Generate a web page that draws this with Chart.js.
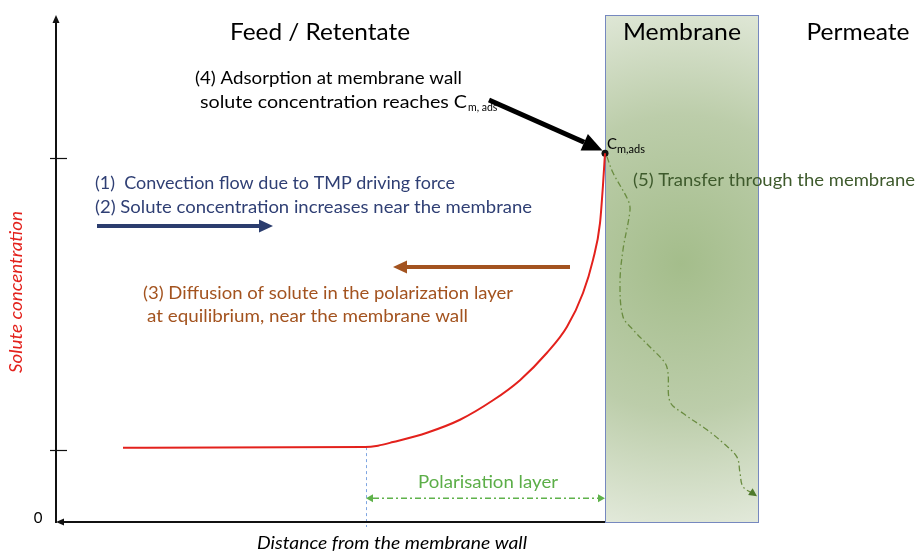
<!DOCTYPE html>
<html><head><meta charset="utf-8">
<script src="https://cdn.jsdelivr.net/npm/chart.js@4"></script>
<style>html,body{margin:0;padding:0;background:#fff}#wrap{width:918px;height:552px;position:relative}</style>
</head><body><div id="wrap"><canvas id="c"></canvas></div>
<script>
// ---- data (distance from membrane wall, arbitrary units; concentration, relative to bulk) ----
const profileDistance = [48.2, 24.0, 22.7, 21.2, 17.8, 14.5, 11.2, 8.5, 5.8, 3.8, 2.2, 1.2, 0.5, 0.2, 0];
const profileConc     = [1.03, 1.04, 1.06, 1.11, 1.24, 1.42, 1.69, 1.97, 2.35, 2.71, 3.18, 3.64, 4.15, 4.68, 5.12];
const transferDepth = [-0.2, -0.8, -2.3, -2.5, -1.8, -1.5, -1.8, -2.8, -4.5, -6.0, -6.3, -6.5, -7.8, -10.2, -11.8, -13.2, -13.5, -13.8, -15.0];
const transferConc  = [5.07, 4.85, 4.47, 4.33, 3.78, 3.32, 2.85, 2.67, 2.43, 2.21, 2.07, 1.67, 1.51, 1.28, 1.10, 0.90, 0.68, 0.49, 0.38];
const convectionArrowX = [50.8, 33.2];
const convectionArrowY = [4.11, 4.11];
const diffusionArrowX = [3.5, 21.2];
const diffusionArrowY = [3.54, 3.54];
const adsorptionArrowX = [11.6, 0.25];
const adsorptionArrowY = [5.86, 5.16];
const layerArrowX = [23.9, 0];
const layerArrowY = [0.33, 0.33];
const layerEdgeX = [23.9, 23.9];
const layerEdgeY = [1.04, -0.07];
const membraneX = [0, -15.3];
const wallPointX = [0];
const wallPointY = [5.12];
const concTicks = [0, 1.0, 5.06];
const concTickLabels = ['0', '', ''];
const distanceRange = [-31.3, 54.9];
const concRange = [0, 7.04];

const FONT = 'Lato, "Open Sans", sans-serif';

function txt(ctx, s, x, y, o) {
  o = o || {};
  ctx.save();
  ctx.font = (o.italic ? 'italic ' : '') + (o.size || 17) + 'px ' + FONT;
  ctx.fillStyle = o.color || '#000';
  ctx.textBaseline = 'middle';
  ctx.textAlign = 'left';
  const w = ctx.measureText(s).width;
  const sx = o.width ? o.width / w : 1;
  ctx.translate(x, y);
  if (o.rotate) ctx.rotate(o.rotate);
  ctx.scale(sx, 1);
  ctx.fillText(s, o.align === 'center' ? -w / 2 : 0, 0);
  ctx.restore();
  return x + w * sx;
}

function arrow(ctx, x1, y1, x2, y2, o) {
  const a = Math.atan2(y2 - y1, x2 - x1);
  const L = o.head, H = o.half;
  const c = Math.cos(a), s = Math.sin(a);
  const bx = x2 - L * c, by = y2 - L * s;
  let sxp = x1, syp = y1;
  if (o.both) { sxp = x1 + L * c; syp = y1 + L * s; }
  ctx.save();
  ctx.strokeStyle = o.color; ctx.fillStyle = o.color;
  ctx.lineWidth = o.width; ctx.setLineDash(o.dash || []);
  if (o.width > 0) { ctx.beginPath(); ctx.moveTo(sxp, syp); ctx.lineTo(bx, by); ctx.stroke(); }
  ctx.setLineDash([]);
  const head = (tx, ty, ang) => {
    const cc = Math.cos(ang), ss = Math.sin(ang);
    const qx = tx - L * cc, qy = ty - L * ss;
    ctx.beginPath();
    ctx.moveTo(tx, ty);
    ctx.lineTo(qx - H * ss, qy + H * cc);
    ctx.lineTo(qx + H * ss, qy - H * cc);
    ctx.closePath(); ctx.fill();
  };
  head(x2, y2, a);
  if (o.both) head(x1, y1, a + Math.PI);
  ctx.restore();
}

const diagram = {
  id: 'diagram',
  beforeDatasetsDraw(chart) {
    const { ctx, scales: { x, y } } = chart;
    const l = x.getPixelForValue(membraneX[0]), r = x.getPixelForValue(membraneX[1]);
    const t = y.getPixelForValue(concRange[1]), b = y.getPixelForValue(concRange[0]);
    ctx.save();
    const g = ctx.createRadialGradient((l + r) / 2, t + (b - t) * 0.49, 0, (l + r) / 2, t + (b - t) * 0.49, 270);
    g.addColorStop(0, '#a4bd8b');
    g.addColorStop(0.55, '#bccdaa');
    g.addColorStop(1, '#e2e9da');
    ctx.fillStyle = g;
    ctx.fillRect(l, t, r - l, b - t);
    ctx.strokeStyle = '#7688bf'; ctx.lineWidth = 1;
    ctx.strokeRect(Math.round(l) + 0.5, Math.round(t) + 0.5, Math.round(r - l), Math.round(b - t));
    // polarisation layer edge (dotted)
    ctx.strokeStyle = '#7fa6e2'; ctx.lineWidth = 1; ctx.setLineDash([3, 3]);
    ctx.beginPath();
    ctx.moveTo(Math.round(x.getPixelForValue(layerEdgeX[0])) + 0.5, y.getPixelForValue(layerEdgeY[0]));
    ctx.lineTo(Math.round(x.getPixelForValue(layerEdgeX[1])) + 0.5, y.getPixelForValue(layerEdgeY[1]));
    ctx.stroke();
    ctx.restore();
  },
  afterDatasetsDraw(chart) {
    const { ctx, scales: { x, y } } = chart;
    const px = v => x.getPixelForValue(v), py = v => y.getPixelForValue(v);
    // axes
    const ax = px(distanceRange[1]);
    ctx.save();
    ctx.strokeStyle = '#111'; ctx.fillStyle = '#111';
    arrow(ctx, ax, py(concRange[0]) + 1, ax, py(concRange[1]), { color: '#111', width: 2, head: 8, half: 3.5 });
    arrow(ctx, px(membraneX[0]), py(0), ax, py(0), { color: '#111', width: 2, head: 8, half: 3.5 });
    ctx.lineWidth = 1.2;
    concTicks.forEach((v, i) => {
      if (v > 0) {
        ctx.beginPath(); ctx.moveTo(ax - 6, Math.round(py(v)) + 0.5); ctx.lineTo(ax + 11, Math.round(py(v)) + 0.5); ctx.stroke();
      }
      if (concTickLabels[i]) txt(ctx, concTickLabels[i], ax - 18, py(v) - 4, { size: 15, align: 'center' });
    });
    ctx.restore();
    // arrows
    arrow(ctx, px(convectionArrowX[0]), py(convectionArrowY[0]), px(convectionArrowX[1]), py(convectionArrowY[1]), { color: '#2b3d6e', width: 4, head: 14, half: 6.5 });
    arrow(ctx, px(diffusionArrowX[0]), py(diffusionArrowY[0]), px(diffusionArrowX[1]), py(diffusionArrowY[1]), { color: '#a3531f', width: 4, head: 14, half: 6.5 });
    arrow(ctx, px(adsorptionArrowX[0]), py(adsorptionArrowY[0]), px(adsorptionArrowX[1]), py(adsorptionArrowY[1]), { color: '#000', width: 5, head: 20, half: 9 });
    arrow(ctx, px(layerArrowX[0]), py(layerArrowY[0]), px(layerArrowX[1]), py(layerArrowY[1]), { color: '#5fb24b', width: 1.3, head: 7, half: 4, both: true, dash: [6, 3, 2, 3] });
    // transfer path arrow head
    const n = transferDepth.length;
    const tx1 = px(transferDepth[n - 2]), ty1 = py(transferConc[n - 2]);
    const tx2 = px(transferDepth[n - 1]), ty2 = py(transferConc[n - 1]);
    arrow(ctx, tx1, ty1, tx2 + 2, ty2 + 1.5, { color: '#4f7a2c', width: 0, head: 8, half: 4 });
  },
  afterDraw(chart) {
    const { ctx, scales: { x, y } } = chart;
    const px = v => x.getPixelForValue(v), py = v => y.getPixelForValue(v);
    // region titles
    txt(ctx, 'Feed / Retentate', 320, 33, { size: 23, align: 'center', width: 180 });
    txt(ctx, 'Membrane', 682, 33, { size: 23, align: 'center', width: 118 });
    txt(ctx, 'Permeate', 858, 33, { size: 23, align: 'center', width: 103 });
    // (4)
    txt(ctx, '(4) Adsorption at membrane wall', 195, 78, { size: 18, width: 267 });
    const e = txt(ctx, 'solute concentration reaches C', 200, 102, { size: 18, width: 267 });
    txt(ctx, 'm, ads', e + 1, 108, { size: 10.5 });
    // C m,ads label
    const cx = px(wallPointX[0]) + 2, cy = py(wallPointY[0]);
    const e2 = txt(ctx, 'C', cx, cy - 9, { size: 15 });
    txt(ctx, 'm,ads', e2, cy - 4, { size: 11 });
    // (1)(2)
    txt(ctx, '(1)  Convection flow due to TMP driving force', 95, 183, { size: 18, color: '#2f3f74', width: 360 });
    txt(ctx, '(2) Solute concentration increases near the membrane', 95, 207, { size: 18, color: '#2f3f74', width: 437 });
    // (3)
    txt(ctx, '(3) Diffusion of solute in the polarization layer', 143, 293, { size: 18, color: '#a3531f', width: 370 });
    txt(ctx, 'at equilibrium, near the membrane wall', 147, 316, { size: 18, color: '#a3531f', width: 321 });
    // (5)
    txt(ctx, '(5) Transfer through the membrane', 633, 180, { size: 18, color: '#3e5a2c', width: 282 });
    // polarisation layer
    txt(ctx, 'Polarisation layer', 488, 482, { size: 18, color: '#5cae48', align: 'center', width: 140 });
    // axis titles
    txt(ctx, 'Solute concentration', 17, 292, { size: 17, italic: true, color: '#e3211c', align: 'center', width: 162, rotate: -Math.PI / 2 });
    txt(ctx, 'Distance from the membrane wall', 392, 544, { size: 17, italic: true, align: 'center', width: 270 });
  }
};

new Chart(document.getElementById('c'), {
  type: 'scatter',
  data: {
    datasets: [
      {
        data: profileDistance.map((v, i) => ({ x: v, y: profileConc[i] })),
        showLine: true, borderColor: '#e3211c', borderWidth: 2, pointRadius: 0,
        cubicInterpolationMode: 'monotone', clip: false
      },
      {
        data: transferDepth.map((v, i) => ({ x: v, y: transferConc[i] })),
        showLine: true, borderColor: '#6a8c40', borderWidth: 1.3, borderDash: [6, 3, 1.5, 3],
        pointRadius: 0, tension: 0.35, clip: false
      },
      {
        data: wallPointX.map((v, i) => ({ x: v, y: wallPointY[i] })),
        pointRadius: 3.5, pointBackgroundColor: '#111', pointBorderWidth: 0, clip: false
      }
    ]
  },
  options: {
    responsive: true, maintainAspectRatio: false, animation: false, devicePixelRatio: 1,
    layout: { autoPadding: false, padding: { left: 56, top: 15, right: 0, bottom: 30 } },
    plugins: { legend: { display: false }, tooltip: { enabled: false } },
    scales: {
      x: { type: 'linear', reverse: true, min: distanceRange[0], max: distanceRange[1], display: false },
      y: { type: 'linear', min: concRange[0], max: concRange[1], display: false }
    }
  },
  plugins: [diagram]
});
</script></body></html>
